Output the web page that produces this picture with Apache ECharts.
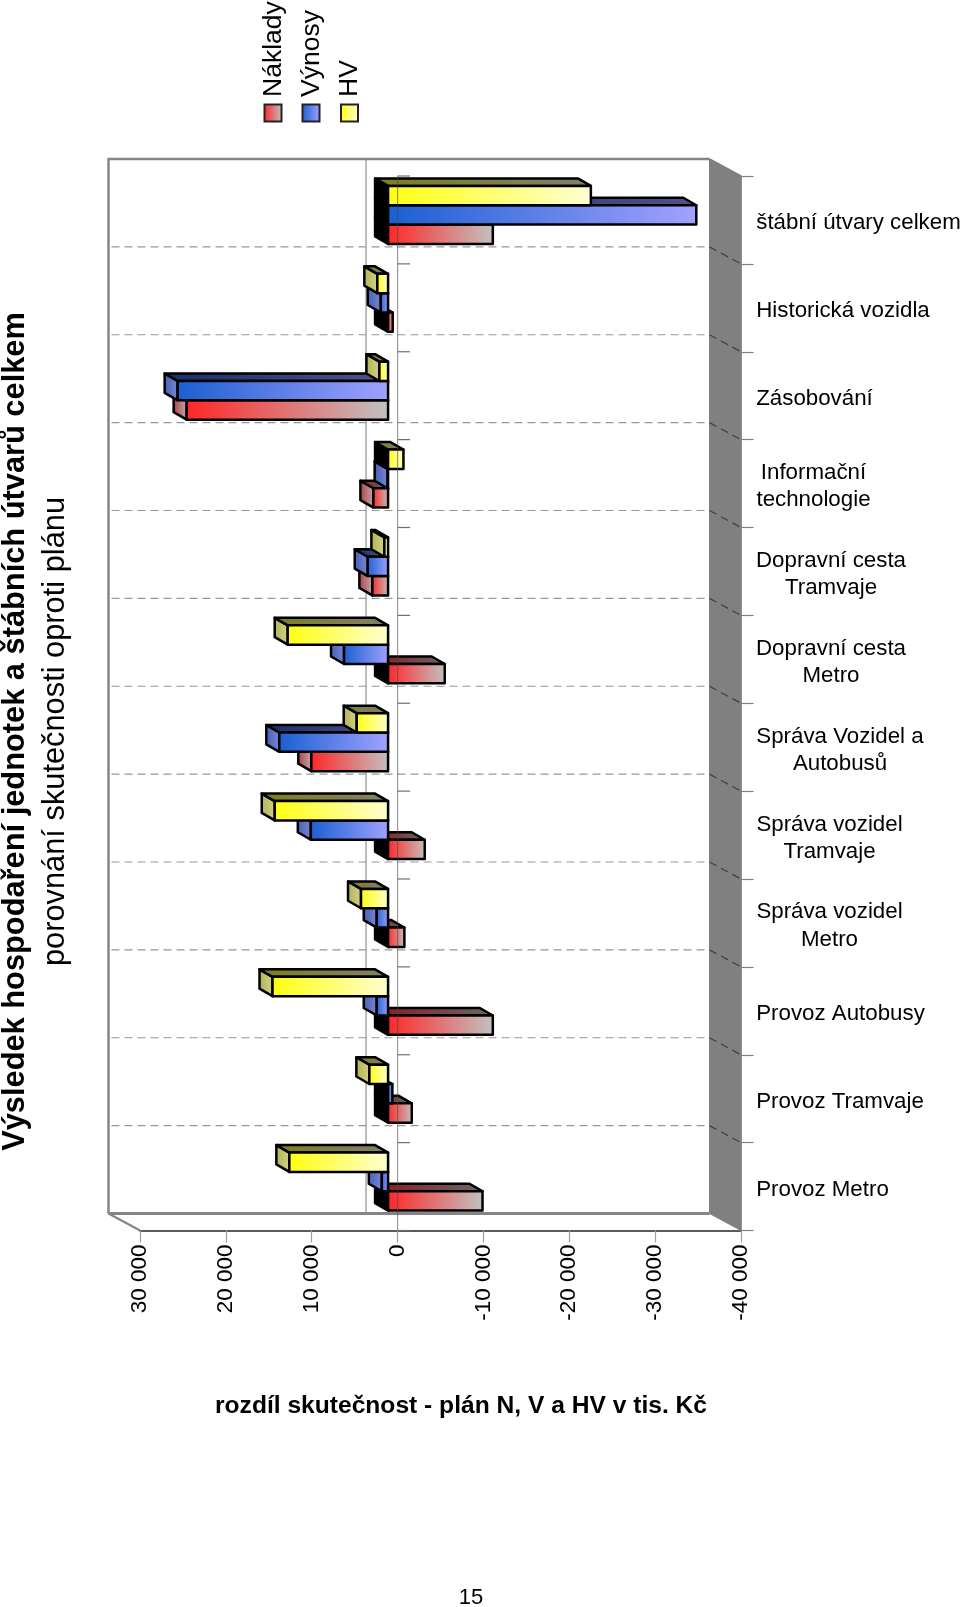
<!DOCTYPE html>
<html><head><meta charset="utf-8">
<style>html,body{margin:0;padding:0;background:#fff}#c{width:960px;height:1607px}</style>
<script src="https://cdn.jsdelivr.net/npm/echarts@6/dist/echarts.min.js"></script>
</head><body><div id="c"></div>
<script>
const categories = ["Provoz Metro","Provoz Tramvaje","Provoz Autobusy","Správa vozidel\nMetro","Správa vozidel\nTramvaje","Správa Vozidel a\nAutobusů","Dopravní cesta\nMetro","Dopravní cesta\nTramvaje","Informační\ntechnologie","Zásobování","Historická vozidla","štábní útvary celkem"];
const naklady = [-11000,-2760,-12200,-1900,-4270,8940,-6600,1830,1710,23460,-540,-12200];
const vynosy  = [730,-500,1320,1320,9000,12670,5130,2370,50,24510,850,-35900];
const hv      = [11500,2180,13460,3150,13200,3650,11690,430,-1790,1010,1250,-23620];
const seriesNames = ["Náklady","Výnosy","HV"];
const axisTicks = {"30000":"30 000","20000":"20 000","10000":"10 000","0":"0","-10000":"-10 000","-20000":"-20 000","-30000":"-30 000","-40000":"-40 000"};
const mainTitle = "Výsledek hospodaření jednotek a štábních útvarů celkem";
const subTitle = "porovnání skutečnosti oproti plánu";
const axisTitle = "rozdíl skutečnost - plán N, V a HV v tis. Kč";
const pageNo = "15";

const FONT = '"Liberation Sans", Arial, sans-serif';
const LG = (a,b)=>new echarts.graphic.LinearGradient(0,0,1,0,[{offset:0,color:a},{offset:1,color:b}]);
const palette = [
  {front:['#ff2626','#c2c2c2'],top:['#8a1a1a','#686868'],side:['#b03c44','#c2aeae']},
  {front:['#1a5fd0','#a2a2ff'],top:['#16306c','#525288'],side:['#3f5fb4','#7f88d4']},
  {front:['#ffff10','#ffffd2'],top:['#7e7e1e','#80806e'],side:['#b2b24e','#d2d28e']}
];
// chart geometry
const G = {left:140,top:176,width:601,height:1054.5};
const WALL = {dx:-31.5,dy:-17};       // back wall offset
const BAR = {dx:-9.5,dy:-5,ddx:-13,ddy:-7.5,band:0.66}; // bar plane and depth

function renderBar(si){
  return function(params,api){
    const v = api.value(0), c = api.value(1);
    const p0 = api.coord([0,c]), p1 = api.coord([v,c]);
    const bandH = api.size([0,1])[1];
    const h = bandH*BAR.band/3;
    const xz = p0[0]+BAR.dx, xv = p1[0]+BAR.dx;
    const xL = Math.min(xz,xv), xR = Math.max(xz,xv);
    const yb = p0[1]+BAR.dy+bandH*BAR.band/2-si*h, yt = yb-h;
    const d = BAR, pal = palette[si];
    const stroke = {stroke:'#000',lineWidth:2.5,lineJoin:'round'};
    const poly = (pts,fill)=>({type:'polygon',shape:{points:pts},style:Object.assign({fill},stroke)});
    return {type:'group',children:[
      poly([[xL,yt],[xL,yb],[xL+d.ddx,yb+d.ddy],[xL+d.ddx,yt+d.ddy]], v<0?'#000':LG(pal.side[0],pal.side[1])),
      poly([[xL,yt],[xR,yt],[xR+d.ddx,yt+d.ddy],[xL+d.ddx,yt+d.ddy]], LG(pal.top[0],pal.top[1])),
      {type:'rect',shape:{x:xL,y:yt,width:xR-xL,height:h},style:Object.assign({fill:LG(pal.front[0],pal.front[1])},stroke)}
    ]};
  };
}
function renderWalls(params,api){
  const cs = params.coordSys, n = categories.length, W = WALL;
  const x0=cs.x,y0=cs.y,x1=cs.x+cs.width,y1=cs.y+cs.height;
  const ln=(a,b,c,d,style)=>({type:'line',shape:{x1:a,y1:b,x2:c,y2:d},style});
  const ch=[];
  ch.push({type:'polygon',shape:{points:[[x1+W.dx,y0+W.dy],[x1,y0],[x1,y1],[x1+W.dx,y1+W.dy]]},style:{fill:'#808080',stroke:'#808080',lineWidth:1}});
  for(let i=1;i<n;i++){
    const y=y0+cs.height*i/n;
    ch.push(ln(x0+W.dx+3,y+W.dy,x1+W.dx,y+W.dy,{stroke:'#979797',lineWidth:1.2,lineDash:[8,5]}));
    ch.push(ln(x1+W.dx,y+W.dy,x1,y,{stroke:'#404040',lineWidth:1.2,lineDash:[8,5]}));
  }
  const z=api.coord([0,0])[0];
  ch.push(ln(z+W.dx,y0+W.dy,z+W.dx,y1+W.dy,{stroke:'#a6a6a6',lineWidth:1.5}));
  const fr={stroke:'#858585',lineWidth:2.5};
  ch.push({type:'polyline',shape:{points:[[x0+W.dx,y1+W.dy],[x0+W.dx,y0+W.dy],[x1+W.dx,y0+W.dy]]},style:Object.assign({fill:'none'},fr)});
  ch.push(ln(x0+W.dx,y1+W.dy,x1+W.dx,y1+W.dy,{stroke:'#858585',lineWidth:3}));
  ch.push(ln(x0+W.dx,y1+W.dy,x0,y1,{stroke:'#858585',lineWidth:2}));
  ch.push(ln(x1+W.dx,y0+W.dy,x1,y0,{stroke:'#808080',lineWidth:1.5}));
  return {type:'group',children:ch};
}
function renderZero(params,api){
  const cs=params.coordSys,n=categories.length,z=api.coord([0,0])[0];
  const ch=[{type:'line',shape:{x1:z,y1:cs.y,x2:z,y2:cs.y+cs.height},style:{stroke:'rgba(70,70,70,.55)',lineWidth:1.2}}];
  for(let i=0;i<=n;i++){const y=cs.y+cs.height*i/n;
    ch.push({type:'line',shape:{x1:z,y1:y,x2:z+12.5,y2:y},style:{stroke:'#707070',lineWidth:1.2}});}
  return {type:'group',children:ch};
}

// centred multi-line category labels starting at the axis margin
const CAT_FS=22.3;
const mctx=document.createElement('canvas').getContext('2d');
mctx.font=CAT_FS+'px "Liberation Sans"';
const rich={};
categories.forEach((c,i)=>{
  const w=Math.max(...c.split('\n').map(s=>mctx.measureText(s).width));
  rich['c'+i]={width:Math.ceil(w),align:'center',fontSize:CAT_FS,lineHeight:27.3,fontFamily:FONT,color:'#000'};
});

const chart=echarts.init(document.getElementById('c'),null,{renderer:'canvas'});
const rows=a=>a.map((v,i)=>[v,i]);
const rot=Math.PI/2;
const txt=(x,y,text,size,weight,align)=>({type:'text',x,y,rotation:rot,z:10,
  style:{text,fontSize:size,fontWeight:weight,fontFamily:FONT,fill:'#000',align:align,verticalAlign:'middle'}});
const swatch=(x,y,si)=>({type:'rect',z:10,shape:{x,y,width:17,height:17},style:{fill:LG(palette[si].front[0],palette[si].front[1]),stroke:'#222',lineWidth:2}});
chart.setOption({
  animation:false,backgroundColor:'#fff',
  grid:{left:G.left,top:G.top,width:G.width,height:G.height,containLabel:false,outerBoundsMode:'none'},
  xAxis:{type:'value',inverse:true,min:-40000,max:30000,interval:10000,position:'bottom',
    axisLine:{show:true,onZero:false,lineStyle:{color:'#5a5a5a',width:2}},
    axisTick:{show:true,length:12,lineStyle:{color:'#a0a0a0',width:1.2}},
    splitLine:{show:false},
    axisLabel:{rotate:90,margin:14,fontSize:22.5,padding:[4,0,0,0],fontFamily:FONT,color:'#000',formatter:v=>axisTicks[String(v)]}},
  yAxis:{type:'category',data:categories,position:'right',
    axisLine:{show:true,onZero:false,lineStyle:{color:'#808080',width:1.5}},
    axisTick:{show:true,length:12.5,lineStyle:{color:'#808080',width:1.2}},
    splitLine:{show:false},
    axisLabel:{margin:15,align:'left',interval:0,rich,padding:[6,0,0,0],
      formatter:(v)=>{const i=categories.indexOf(v);return v.split('\n').map(s=>'{c'+i+'|'+s+'}').join('\n');}}},
  series:[
    {type:'custom',name:'walls',coordinateSystem:'cartesian2d',clip:false,silent:true,z:1,data:[[0,0]],renderItem:renderWalls,encode:{x:0,y:1}},
    {type:'custom',name:seriesNames[0],coordinateSystem:'cartesian2d',clip:false,z:3,data:rows(naklady),renderItem:renderBar(0),encode:{x:0,y:1}},
    {type:'custom',name:seriesNames[1],coordinateSystem:'cartesian2d',clip:false,z:4,data:rows(vynosy),renderItem:renderBar(1),encode:{x:0,y:1}},
    {type:'custom',name:seriesNames[2],coordinateSystem:'cartesian2d',clip:false,z:5,data:rows(hv),renderItem:renderBar(2),encode:{x:0,y:1}},
    {type:'custom',name:'zero',coordinateSystem:'cartesian2d',clip:false,silent:true,z:6,data:[[0,0]],renderItem:renderZero,encode:{x:0,y:1}}
  ],
  graphic:[
    txt(16,731.5,mainTitle,30.8,'bold','center'),
    txt(56,731.5,subTitle,30.8,'normal','center'),
    swatch(264.5,104.5,0),swatch(302.5,104.5,1),swatch(341,104.5,2),
    txt(274,97,seriesNames[0],26.5,'normal','left'),
    txt(312,97,seriesNames[1],26.5,'normal','left'),
    txt(350,97,seriesNames[2],26.5,'normal','left'),
    {type:'text',x:461,y:1406,z:10,style:{text:axisTitle,fontSize:24.6,fontWeight:'bold',fontFamily:FONT,fill:'#000',align:'center',verticalAlign:'middle'}},
    {type:'text',x:471,y:1598,z:10,style:{text:pageNo,fontSize:22,fontFamily:FONT,fill:'#000',align:'center',verticalAlign:'middle'}}
  ]
});
</script></body></html>
